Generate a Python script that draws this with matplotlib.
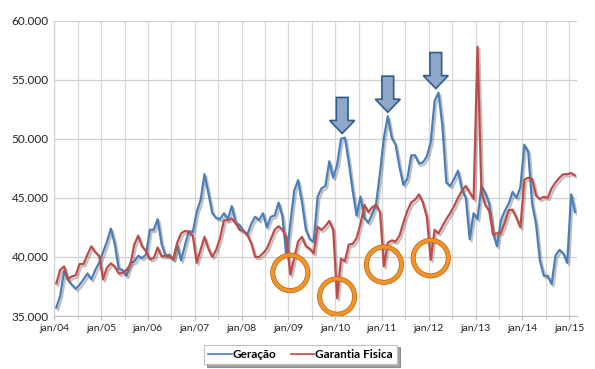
import matplotlib
matplotlib.use("Agg")
import matplotlib.pyplot as plt
import matplotlib.patheffects as pe
from matplotlib.patches import Ellipse, Polygon
from matplotlib.ticker import FuncFormatter, MultipleLocator
import numpy as np

plt.rcParams['font.family'] = ['Lato', 'DejaVu Sans']

# monthly values (MWmed, in thousands), jan/04 .. feb/15
geracao = [
    35.7, 36.7, 38.8, 38.05, 37.65, 37.3, 37.65, 38.1, 38.6, 38.1, 38.9, 39.5,
    40.4, 41.3, 42.4, 41.1, 39.0, 38.9, 38.4, 39.5, 39.6, 40.1, 39.9, 40.2,
    42.3, 42.3, 43.2, 41.1, 40.1, 40.2, 39.8, 41.0, 39.7, 41.0, 42.2, 42.1,
    43.8, 44.8, 47.0, 45.4, 43.7, 43.3, 43.2, 43.7, 43.2, 44.3, 42.9, 42.7,
    42.2, 41.9, 42.8, 43.4, 43.1, 43.7, 42.5, 43.4, 43.5, 44.6, 43.4, 40.0,
    42.8, 45.6, 46.5, 44.6, 42.3, 41.5, 41.3, 45.1, 45.8, 46.0, 48.1, 46.7,
    47.8, 50.0, 50.1, 48.0, 45.6, 43.5, 45.1, 43.3, 42.9, 43.6, 44.5, 47.1,
    50.1, 51.9, 50.1, 49.5, 47.6, 46.1, 46.6, 48.6, 48.6, 47.9, 48.0, 48.5,
    49.7, 53.2, 53.9, 51.1, 46.3, 46.0, 46.6, 47.3, 45.7, 45.0, 41.5, 43.7,
    43.2, 46.0, 45.4, 44.5, 42.0, 40.9, 43.1, 43.9, 44.5, 45.5, 45.0, 45.9,
    49.5, 48.9, 44.5, 42.8, 39.7, 38.4, 38.4, 37.7, 40.1, 40.6, 40.3, 39.5,
    45.3, 43.8,
]
garantia = [
    37.75, 38.9, 39.2, 38.1, 38.35, 38.45, 39.4, 39.4, 40.2, 40.9, 40.4, 40.1,
    38.1, 39.1, 39.45, 39.2, 38.6, 38.65, 38.9, 39.35, 41.05, 41.8, 40.9, 40.5,
    39.8, 39.9, 40.8, 40.05, 40.1, 40.05, 39.8, 41.2, 42.0, 42.2, 42.1, 41.8,
    39.5, 40.6, 41.7, 40.7, 40.0, 40.6, 41.6, 43.1, 43.1, 43.25, 42.85, 42.3,
    42.2, 41.85, 41.15, 40.0, 40.0, 40.3, 40.7, 41.5, 42.3, 42.6, 42.3, 41.65,
    38.5, 39.9, 41.3, 41.7, 40.9, 40.7, 40.3, 42.55, 42.3, 42.6, 43.05, 42.3,
    36.5, 39.85, 39.65, 41.05, 41.1, 41.6, 42.8, 44.4, 43.8, 44.2, 44.4, 43.8,
    39.2, 41.2, 41.4, 41.3, 41.8, 42.9, 43.9, 44.6, 44.85, 45.3, 44.6, 43.4,
    39.75, 42.3, 42.0, 42.6, 43.2, 43.7, 44.3, 45.0, 45.6, 46.0, 45.45, 44.9,
    57.8, 45.5, 44.4, 43.9, 41.9, 42.0, 42.05, 42.9, 43.95, 44.0, 43.3, 42.5,
    46.55, 46.7, 46.6, 45.2, 44.9, 45.1, 45.0, 45.8, 46.3, 46.7, 47.0, 47.0,
    47.1, 46.9,
]
year_labels = ['jan/04', 'jan/05', 'jan/06', 'jan/07', 'jan/08', 'jan/09',
               'jan/10', 'jan/11', 'jan/12', 'jan/13', 'jan/14', 'jan/15']

# months highlighted in the picture
circle_months = [60, 72, 84, 96]     # dips of garantia fisica
arrow_months = [74, 85, 98]          # peaks of geracao

ger = np.array(geracao) * 1000
gar = np.array(garantia) * 1000
x = np.arange(len(ger)) + 0.5

fig = plt.figure(figsize=(5.95, 3.69), dpi=100)
ax = fig.add_axes([0.0913, 0.1436, 0.8784, 0.8004])

shadow = [pe.SimpleLineShadow(offset=(1.3, -1.6), shadow_color='#666666', alpha=0.4),
          pe.Normal()]
ax.plot(x, ger, color='#4A7EBB', lw=1.6, label='Geração', path_effects=shadow, zorder=3)
ax.plot(x, gar, color='#BE4B48', lw=1.6, label='Garantia Fisica', path_effects=shadow, zorder=3)

ax.set_xlim(0, len(ger))
ax.set_ylim(35000, 60000)
ax.yaxis.set_major_locator(MultipleLocator(5000))
ax.yaxis.set_major_formatter(FuncFormatter(lambda v, p: f"{v:,.0f}".replace(",", ".")))
ax.set_xticks(np.arange(0, 12 * len(year_labels), 12))
ax.set_xticklabels(year_labels)
ax.set_xticks(np.arange(6, len(ger), 12), minor=True)

ax.grid(True, which='both', axis='x', color='#D9D9D9', lw=0.9)
ax.grid(True, which='major', axis='y', color='#D0D0D0', lw=0.9)
ax.set_axisbelow(True)
for s in ['top', 'right']:
    ax.spines[s].set_visible(False)
ax.spines['left'].set_color('#D0D0D0')
ax.spines['bottom'].set_color('#BFBFBF')
ax.tick_params(axis='y', length=0, labelsize=8.5, pad=4, colors='#222222')
ax.tick_params(axis='x', which='both', length=3, color='#BFBFBF', labelsize=7.5, pad=3,
               labelcolor='#222222')

# orange circles around the dips
for m in circle_months:
    y0 = gar[m] + 150
    e = Ellipse((m + 0.5, y0), width=9.0, height=3000, fill=False,
                edgecolor='#F39424', lw=2.6, zorder=4,
                path_effects=[pe.Stroke(linewidth=3.6, foreground='#B5651D'), pe.Normal()])
    ax.add_patch(e)

# block arrows pointing to the peaks
for m in arrow_months:
    cx = m - 0.2 if m != 85 else m + 0.5
    tip = ger[m] + 350
    top = tip + 3050
    neck = tip + 1100
    sw, hw = 1.5, 3.2
    pts = [(cx - sw, top), (cx + sw, top), (cx + sw, neck), (cx + hw, neck),
           (cx, tip), (cx - hw, neck), (cx - sw, neck)]
    ax.add_patch(Polygon(pts, closed=True, facecolor='#8FA8C8', edgecolor='#2F5B8E',
                         lw=1.2, zorder=5))

leg = fig.legend(loc='center', bbox_to_anchor=(0.505, 0.04), ncol=2, frameon=True,
                 fancybox=False, shadow=True, handlelength=2.0, handletextpad=0.1,
                 columnspacing=1.2, borderpad=0.35,
                 prop={'weight': 'bold', 'size': 8.5})
leg.get_frame().set_edgecolor('#BFBFBF')
leg.get_frame().set_linewidth(0.8)
for h in leg.get_lines():
    h.set_linewidth(1.2)
    h.set_path_effects([])

fig.savefig('out.png', dpi=100)
